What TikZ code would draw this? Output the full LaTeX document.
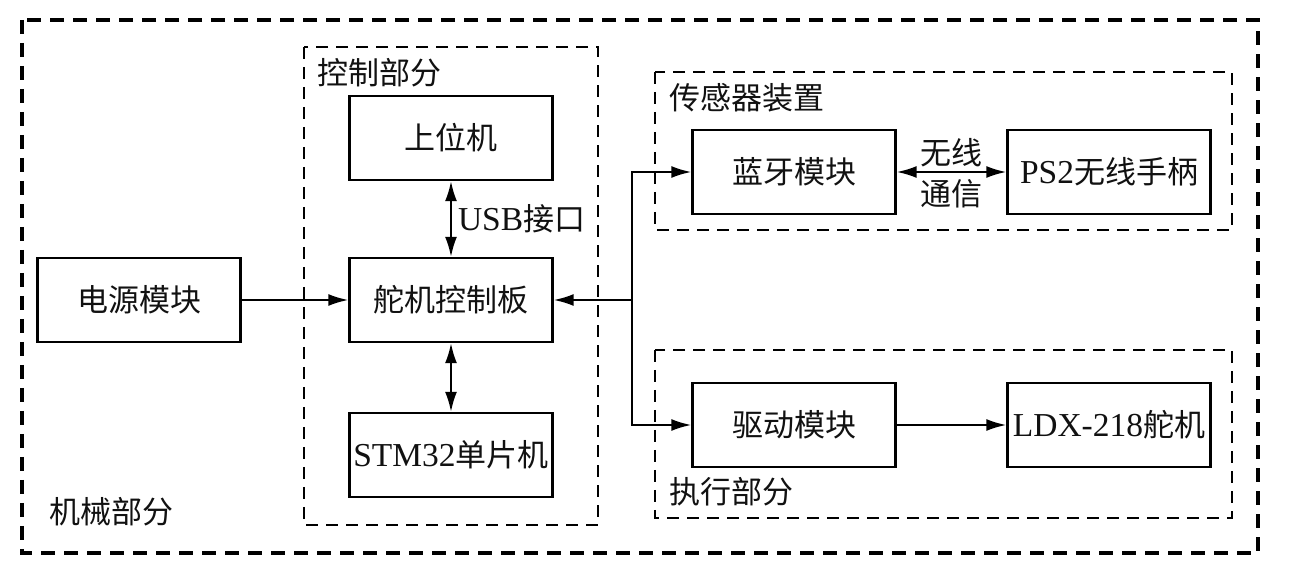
\documentclass[tikz,border=0pt]{standalone}
\usepackage{fontspec}
\usepackage{tikz}
\usetikzlibrary{arrows.meta}
\setmainfont{Noto Sans CJK SC}
\newfontfamily\latin[Scale=1.08]{Liberation Serif}
\definecolor{FontColor}{HTML}{111111}
\newcommand\nodedy{电源模块}
\newcommand\nodeswj{上位机}
\newcommand\nodekzb{舵机控制板}
\newcommand\nodestm{{\latin STM32}单片机}
\newcommand\nodely{蓝牙模块}
\newcommand\nodeps{{\latin PS2}无线手柄}
\newcommand\nodeqd{驱动模块}
\newcommand\nodeldx{{\latin LDX-218}舵机}
\tikzstyle{mynodestyle} = [rectangle, minimum width=101.5pt, minimum height=42pt, inner sep=0pt, text=FontColor, font=\fontsize{15.5}{18}\selectfont]
\tikzstyle{bx} = [mynodestyle, draw, line width=1.2pt]
\tikzstyle{lb} = [text=FontColor, inner sep=0pt, font=\fontsize{15.5}{18}\selectfont]
\tikzstyle{outerdash} = [line width=1.7pt, dash pattern=on 7pt off 4.5pt]
\tikzstyle{middash} = [line width=1.4pt, dash pattern=on 6pt off 4pt]
\tikzstyle{thindash} = [line width=0.8pt, dash pattern=on 6pt off 4pt]
\tikzset{>={Latex[length=10pt,width=6pt]}, every picture/.style={line width=1pt}}

\begin{document}
\begin{tikzpicture}[x=0.5pt, y=-0.5pt]
\useasboundingbox (0, 0) rectangle (1290, 576);
\draw[outerdash] (22, 20) rectangle (1258, 553);
\draw[middash] (304, 47) rectangle (598, 525);
\draw[thindash] (655, 72) rectangle (1232, 230);
\draw[thindash] (655, 350) rectangle (1232, 518);
\node[lb, anchor=west] at (48, 512) {机械部分};
\node[lb, anchor=west] at (316, 73) {控制部分};
\node[lb, anchor=west] at (668, 98) {传感器装置};
\node[lb, anchor=west] at (668, 492) {执行部分};
\node[bx] (dy) at (139, 300) {\nodedy};
\node[bx] (swj) at (451, 138) {\nodeswj};
\node[bx] (kzb) at (451, 300) {\nodekzb};
\node[bx] (stm) at (451, 455) {\nodestm};
\node[bx] (ly) at (794, 172) {\nodely};
\node[bx] (ps) at (1109, 172) {\nodeps};
\node[bx] (qd) at (794, 425) {\nodeqd};
\node[bx] (ldx) at (1109, 425) {\nodeldx};
\coordinate (jn) at (632, 300);
\draw [->] (dy) -- (kzb);
\draw [<->] (swj) -- node[lb, anchor=west, xshift=3pt] {{\latin USB}接口} (kzb);
\draw [<->] (kzb) -- (stm);
\draw [->] (jn) -- (kzb);
\draw [->] (jn) |- (ly);
\draw [->] (jn) |- (qd);
\draw [<->] (ly) -- node[lb, above=2pt] {无线} node[lb, below=3pt] {通信} (ps);
\draw [->] (qd) -- (ldx);
\end{tikzpicture}
\end{document}
